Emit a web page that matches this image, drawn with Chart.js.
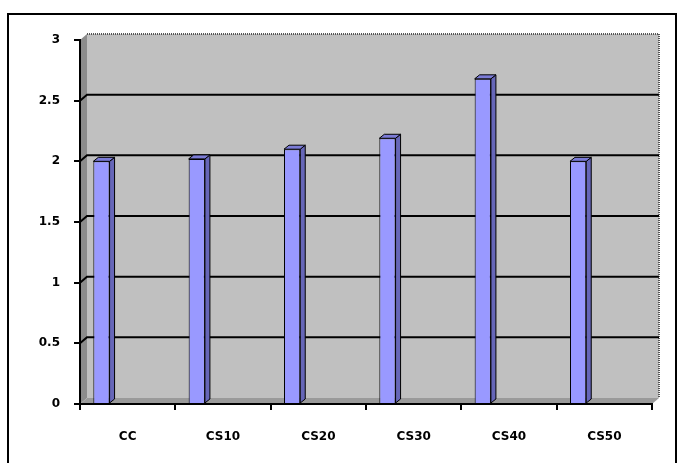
<!DOCTYPE html>
<html>
<head>
<meta charset="utf-8">
<script src="https://cdn.jsdelivr.net/npm/chart.js@4/dist/chart.umd.min.js"></script>
<style>
  html, body { margin: 0; padding: 0; background: #fff; }
  #wrap { width: 683px; height: 463px; position: relative; }
</style>
</head>
<body>
<div id="wrap"><canvas id="c"></canvas></div>
<script>
// datos del grafico
const categories = ["CC", "CS10", "CS20", "CS30", "CS40", "CS50"];
const values = [2.0, 2.02, 2.1, 2.19, 2.68, 2.0];
const yTicks = [0, 0.5, 1, 1.5, 2, 2.5, 3];

// profundidad del efecto 3D
const DEPTH_X = 7, DEPTH_Y = 6;   // pared del fondo
const BAR_DX = 5, BAR_DY = 4;     // caras de las barras

// paredes, suelo y lineas de division (estilo Excel)
const wallPlugin = {
  id: "walls",
  beforeDraw(chart) {
    const ctx = chart.ctx;
    const a = chart.chartArea;
    const y = chart.scales.y;
    ctx.save();
    ctx.fillStyle = "#fff";
    ctx.fillRect(0, 0, chart.width, chart.height);

    // pared lateral
    ctx.fillStyle = "#8c8c8c";
    ctx.beginPath();
    ctx.moveTo(a.left, a.bottom);
    ctx.lineTo(a.left, a.top);
    ctx.lineTo(a.left + DEPTH_X, a.top - DEPTH_Y);
    ctx.lineTo(a.left + DEPTH_X, a.bottom - DEPTH_Y);
    ctx.closePath();
    ctx.fill();

    // pared del fondo
    ctx.fillStyle = "#c0c0c0";
    ctx.fillRect(a.left + DEPTH_X, a.top - DEPTH_Y, a.right - a.left, a.bottom - a.top);

    // suelo
    ctx.fillStyle = "#9a9a9a";
    ctx.beginPath();
    ctx.moveTo(a.left, a.bottom);
    ctx.lineTo(a.left + DEPTH_X, a.bottom - DEPTH_Y);
    ctx.lineTo(a.right + DEPTH_X, a.bottom - DEPTH_Y);
    ctx.lineTo(a.right, a.bottom);
    ctx.closePath();
    ctx.fill();

    // borde punteado arriba y derecha
    ctx.strokeStyle = "#555";
    ctx.lineWidth = 2;
    ctx.setLineDash([1, 1]);
    ctx.beginPath();
    ctx.moveTo(a.left + DEPTH_X, a.top - DEPTH_Y);
    ctx.lineTo(a.right + DEPTH_X, a.top - DEPTH_Y);
    ctx.lineTo(a.right + DEPTH_X, a.bottom - DEPTH_Y);
    ctx.stroke();
    ctx.setLineDash([]);

    // lineas de division
    ctx.strokeStyle = "#000";
    ctx.lineWidth = 2;
    yTicks.forEach(v => {
      if (v === 0 || v === 3) return;
      const py = y.getPixelForValue(v);
      ctx.beginPath();
      ctx.moveTo(a.left, py);
      ctx.lineTo(a.left + DEPTH_X, py - DEPTH_Y);
      ctx.lineTo(a.right + DEPTH_X, py - DEPTH_Y);
      ctx.stroke();
    });
    ctx.restore();
  },
  afterDraw(chart) {
    // marco exterior
    const ctx = chart.ctx;
    ctx.save();
    ctx.strokeStyle = "#000";
    ctx.lineWidth = 2;
    ctx.strokeRect(8, 14, 668, 470);
    ctx.restore();
  }
};

// caras lateral y superior de cada barra
const bar3dPlugin = {
  id: "bar3d",
  afterDatasetsDraw(chart) {
    const ctx = chart.ctx;
    const meta = chart.getDatasetMeta(0);
    ctx.save();
    ctx.strokeStyle = "#000";
    ctx.lineWidth = 1;
    meta.data.forEach(bar => {
      const r = bar.x + bar.width / 2;
      const l = bar.x - bar.width / 2;
      // lateral
      ctx.fillStyle = "#6666b8";
      ctx.beginPath();
      ctx.moveTo(r, bar.y);
      ctx.lineTo(r + BAR_DX, bar.y - BAR_DY);
      ctx.lineTo(r + BAR_DX, bar.base - BAR_DY);
      ctx.lineTo(r, bar.base);
      ctx.closePath();
      ctx.fill();
      ctx.stroke();
      // superior
      ctx.fillStyle = "#7b7bd6";
      ctx.beginPath();
      ctx.moveTo(l, bar.y);
      ctx.lineTo(l + BAR_DX, bar.y - BAR_DY);
      ctx.lineTo(r + BAR_DX, bar.y - BAR_DY);
      ctx.lineTo(r, bar.y);
      ctx.closePath();
      ctx.fill();
      ctx.stroke();
    });
    ctx.restore();
  }
};

const font = { family: "DejaVu Sans", size: 12, weight: "bold" };

new Chart(document.getElementById("c"), {
  type: "bar",
  data: {
    labels: categories,
    datasets: [
      {
        data: values,
        backgroundColor: "#9999ff",
        borderColor: "#000",
        borderWidth: 1
      },
      // huecos para que la barra quede a la izquierda de la categoria
      { data: [] },
      { data: [] }
    ]
  },
  options: {
    responsive: true,
    maintainAspectRatio: false,
    animation: false,
    categoryPercentage: 0.825,
    barPercentage: 0.62,
    layout: { padding: { left: 0, top: 40, right: 31, bottom: 0 } },
    plugins: {
      legend: { display: false },
      tooltip: { enabled: false }
    },
    scales: {
      x: {
        afterFit: s => { s.height = 59; },
        grid: {
          offset: true,
          drawOnChartArea: false,
          color: "#000",
          lineWidth: 2,
          tickLength: 6
        },
        border: { color: "#000", width: 2 },
        ticks: { color: "#000", font: font, padding: 20 }
      },
      y: {
        min: 0,
        max: 3,
        afterFit: s => { s.width = 80; },
        grid: {
          drawOnChartArea: false,
          color: "#000",
          lineWidth: 2,
          tickLength: 6
        },
        border: { color: "#000", width: 2 },
        ticks: {
          stepSize: 0.5,
          color: "#000",
          font: font,
          padding: 14,
          callback: v => String(v)
        }
      }
    }
  },
  plugins: [wallPlugin, bar3dPlugin]
});
</script>
</body>
</html>
